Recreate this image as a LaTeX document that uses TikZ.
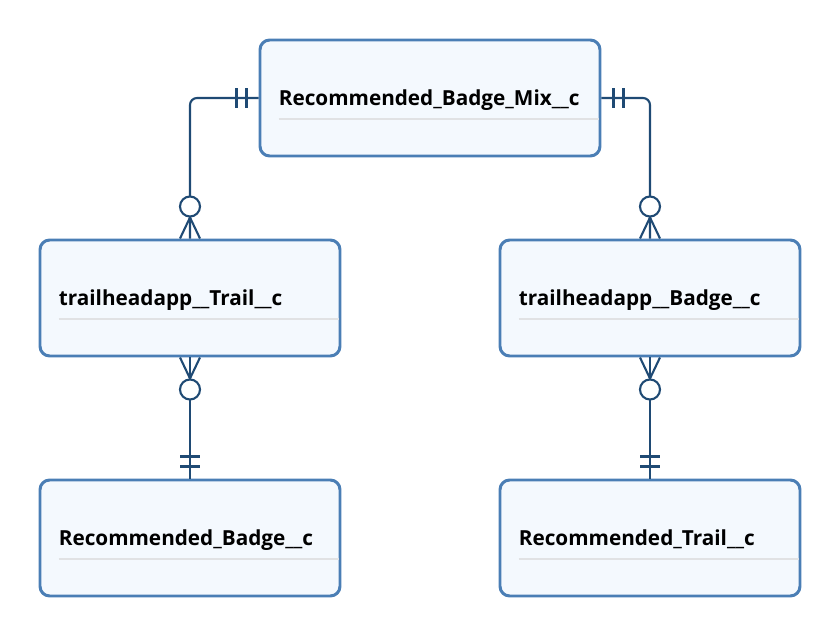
\documentclass[tikz,border=0pt]{standalone}
\usepackage{fontspec}
\setmainfont{Open Sans}
\usepackage{tikz}
\usetikzlibrary{
  calc,
  positioning
}
\definecolor{boxline}{HTML}{4A7EB5}
\definecolor{boxfill}{HTML}{F4F9FE}
\definecolor{relline}{HTML}{1F4A74}
\definecolor{sepline}{HTML}{E1E2E4}
\tikzset{
  entity/.style={draw=boxline,fill=boxfill,line width=1.7pt,rounded corners=5.5pt,minimum width=300*0.02cm,minimum height=116*0.02cm,inner sep=0pt},
  lbl/.style={anchor=base west,inner sep=0pt,font=\bfseries\fontsize{11.8}{13}\selectfont},
  sep/.style={draw=sepline,line width=1.7pt},
  rel/.style={draw=relline,line width=1.2pt}
}

\begin{document}
\begin{tikzpicture}[x=0.02cm,y=-0.02cm]
                  \useasboundingbox (0,0) rectangle (840,636);
                  \node[entity,minimum width=340*0.02cm] (mix) at (430, 98) {};
                  \node[entity] (trail) at (190, 298) {};
                  \node[entity] (badge) at (650, 298) {};
                  \node[entity] (recbadge) at (190, 538) {};
                  \node[entity] (rectrail) at (650, 538) {};

                  \draw[sep] ($(mix.west) + (20, 21)$) -- ($(mix.east) + (-2, 21)$);
                  \draw[sep] ($(trail.west) + (20, 21)$) -- ($(trail.east) + (-2, 21)$);
                  \draw[sep] ($(badge.west) + (20, 21)$) -- ($(badge.east) + (-2, 21)$);
                  \draw[sep] ($(recbadge.west) + (20, 21)$) -- ($(recbadge.east) + (-2, 21)$);
                  \draw[sep] ($(rectrail.west) + (20, 21)$) -- ($(rectrail.east) + (-2, 21)$);

                  \node[lbl] (mixlbl) at ($(mix.west) + (20, 7)$) {Recommended\_Badge\_Mix\_\_c};
                  \node[lbl] (traillbl) at ($(trail.west) + (20, 7)$) {trailheadapp\_\_Trail\_\_c};
                  \node[lbl] (badgelbl) at ($(badge.west) + (20, 7)$) {trailheadapp\_\_Badge\_\_c};
                  \node[lbl] (recbadgelbl) at ($(recbadge.west) + (20, 7)$) {Recommended\_Badge\_\_c};
                  \node[lbl] (rectraillbl) at ($(rectrail.west) + (20, 7)$) {Recommended\_Trail\_\_c};

                  % top links
                  \draw[rel,rounded corners=4pt] (mix.west) -| (trail.north);
                  \draw[rel] ($(mix.west) + (-12, -10)$) -- ++(0, 20);
                  \draw[rel] ($(mix.west) + (-22, -10)$) -- ++(0, 20);
                  \draw[rel,fill=white] ($(trail.north) + (0, -32)$) circle[radius=10];
                  \draw[rel] ($(trail.north) + (0, -21)$) -- ++(-10, 21);
                  \draw[rel] ($(trail.north) + (0, -21)$) -- ++(10, 21);

                  \draw[rel,rounded corners=4pt] (mix.east) -| (badge.north);
                  \draw[rel] ($(mix.east) + (12, -10)$) -- ++(0, 20);
                  \draw[rel] ($(mix.east) + (22, -10)$) -- ++(0, 20);
                  \draw[rel,fill=white] ($(badge.north) + (0, -32)$) circle[radius=10];
                  \draw[rel] ($(badge.north) + (0, -21)$) -- ++(-10, 21);
                  \draw[rel] ($(badge.north) + (0, -21)$) -- ++(10, 21);

                  % bottom links
                  \draw[rel] (trail.south) -- (recbadge.north);
                  \draw[rel,fill=white] ($(trail.south) + (0, 32)$) circle[radius=10];
                  \draw[rel] ($(trail.south) + (0, 21)$) -- ++(-10, -21);
                  \draw[rel] ($(trail.south) + (0, 21)$) -- ++(10, -21);
                  \draw[rel] ($(recbadge.north) + (-10, -12)$) -- ++(20, 0);
                  \draw[rel] ($(recbadge.north) + (-10, -22)$) -- ++(20, 0);

                  \draw[rel] (badge.south) -- (rectrail.north);
                  \draw[rel,fill=white] ($(badge.south) + (0, 32)$) circle[radius=10];
                  \draw[rel] ($(badge.south) + (0, 21)$) -- ++(-10, -21);
                  \draw[rel] ($(badge.south) + (0, 21)$) -- ++(10, -21);
                  \draw[rel] ($(rectrail.north) + (-10, -12)$) -- ++(20, 0);
                  \draw[rel] ($(rectrail.north) + (-10, -22)$) -- ++(20, 0);
                \end{tikzpicture}
\end{document}
